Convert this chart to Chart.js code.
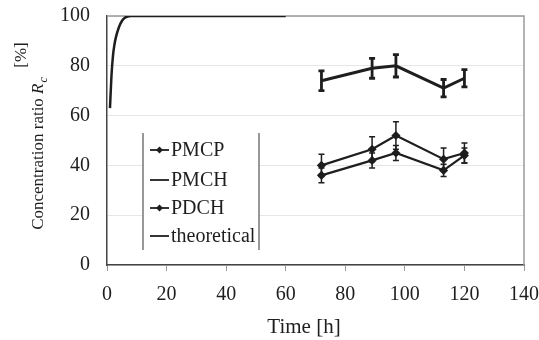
<!DOCTYPE html>
<html>
<head>
<meta charset="utf-8">
<script src="https://cdn.jsdelivr.net/npm/chart.js@4"></script>
<style>
  html, body { margin: 0; padding: 0; background: #fff; }
  #wrap { width: 539px; height: 340px; position: relative; }
</style>
</head>
<body>
<div id="wrap"><canvas id="myChart" width="539" height="340"></canvas></div>
<script>
// ── data ──
const sampleTimes  = [72, 89, 97, 113, 120];

const pmchValues   = [74, 79, 80, 71, 75];
const pmchErrors   = [4, 4, 4.5, 3.5, 3.5];

const pmcpValues   = [40, 46.5, 52, 42.5, 45];
const pmcpErrors   = [4.5, 5, 5.5, 4.5, 4];

const pdchValues   = [36, 42, 45, 38, 44];
const pdchErrors   = [3, 3, 3, 2.5, 3];

const theoryTimes  = [1, 1.5, 2, 2.5, 3, 4, 5, 6, 8, 60];
const theoryValues = [63, 76, 84, 88.5, 91.5, 95.5, 98, 99.3, 100, 100];

const xTicks = [0, 20, 40, 60, 80, 100, 120, 140];
const yTicks = [0, 20, 40, 60, 80, 100];

const SERIF = '"Liberation Serif", "DejaVu Serif", serif';
const INK   = '#1e1e1e';

const toPoints = (xs, ys) => xs.map((x, i) => ({ x, y: ys[i] }));

// ═══════════════════════════════════════
//  ERROR BARS
// ═══════════════════════════════════════
const errorBars = {
  id: 'errorBars',
  afterDatasetsDraw(chart) {
    const { ctx, scales: { x, y } } = chart;
    chart.data.datasets.forEach(ds => {
      if (!ds.errors) return;
      ctx.save();
      ctx.strokeStyle = INK;
      ctx.lineWidth = ds.errWidth || 1.5;
      ds.data.forEach((p, i) => {
        const e  = ds.errors[i];
        const px = x.getPixelForValue(p.x);
        const top = y.getPixelForValue(p.y + e);
        const bot = y.getPixelForValue(p.y - e);
        ctx.beginPath();
        ctx.moveTo(px, top); ctx.lineTo(px, bot);
        ctx.moveTo(px - 3, top); ctx.lineTo(px + 3, top);
        ctx.moveTo(px - 3, bot); ctx.lineTo(px + 3, bot);
        ctx.stroke();
      });
      ctx.restore();
    });
  }
};

// ═══════════════════════════════════════
//  FRAME, TITLES, LEGEND
// ═══════════════════════════════════════
const decorations = {
  id: 'decorations',
  beforeDatasetsDraw(chart) {
    const { ctx, chartArea: a } = chart;
    ctx.save();
    ctx.strokeStyle = '#9a9a9a';
    ctx.lineWidth = 1.5;
    ctx.beginPath();
    ctx.moveTo(a.left, a.top); ctx.lineTo(a.right, a.top); ctx.lineTo(a.right, a.bottom);
    ctx.stroke();
    ctx.restore();
  },
  afterDraw(chart) {
    const { ctx } = chart;
    ctx.save();
    ctx.fillStyle = INK;

    // x title
    ctx.font = '21px ' + SERIF;
    ctx.textAlign = 'center';
    ctx.textBaseline = 'middle';
    ctx.fillText('Time [h]', 304, 327);

    // y title (rotated), R italic with subscript c
    ctx.save();
    ctx.translate(39, 154);
    ctx.rotate(-Math.PI / 2);
    ctx.textAlign = 'left';
    const main = 'Concentration ratio ';
    ctx.font = '17px ' + SERIF;
    const w1 = ctx.measureText(main).width;
    ctx.font = 'italic 17px ' + SERIF;
    const w2 = ctx.measureText('R').width;
    ctx.font = 'italic 12px ' + SERIF;
    const w3 = ctx.measureText('c').width;
    let sx = -(w1 + w2 + w3) / 2;
    ctx.font = '17px ' + SERIF;
    ctx.fillText(main, sx, 0);
    ctx.font = 'italic 17px ' + SERIF;
    ctx.fillText('R', sx + w1, 0);
    ctx.font = 'italic 12px ' + SERIF;
    ctx.fillText('c', sx + w1 + w2 + 1, 5);
    ctx.restore();

    ctx.save();
    ctx.translate(22, 55);
    ctx.rotate(-Math.PI / 2);
    ctx.font = '17px ' + SERIF;
    ctx.textAlign = 'center';
    ctx.fillText('[%]', 0, 0);
    ctx.restore();

    // legend box
    const L = 143, R = 259, T = 133, B = 250;
    ctx.fillStyle = '#fff';
    ctx.fillRect(L, T, R - L, B - T);
    ctx.strokeStyle = '#777';
    ctx.lineWidth = 1.5;
    ctx.beginPath();
    ctx.moveTo(L, T); ctx.lineTo(L, B);
    ctx.moveTo(R, T); ctx.lineTo(R, B);
    ctx.stroke();

    const rows = [150, 180, 208, 236];
    const order = ['PMCP', 'PMCH', 'PDCH', 'theoretical'];
    order.forEach((lab, i) => {
      const ds = chart.data.datasets.find(d => d.label === lab);
      const ry = rows[i];
      ctx.strokeStyle = INK;
      ctx.lineWidth = 1.8;
      ctx.beginPath();
      ctx.moveTo(150, ry); ctx.lineTo(169, ry);
      ctx.stroke();
      if (ds.pointRadius > 0) {
        ctx.fillStyle = INK;
        ctx.beginPath();
        ctx.moveTo(159.5, ry - 3.5); ctx.lineTo(163, ry);
        ctx.lineTo(159.5, ry + 3.5); ctx.lineTo(156, ry);
        ctx.closePath(); ctx.fill();
      }
      ctx.fillStyle = INK;
      ctx.font = '20px ' + SERIF;
      ctx.textAlign = 'left';
      ctx.textBaseline = 'middle';
      ctx.fillText(lab, 171, ry + 1);
    });
    ctx.restore();
  }
};

// ═══════════════════════════════════════
//  CHART
// ═══════════════════════════════════════
const ctx = document.getElementById('myChart').getContext('2d');

new Chart(ctx, {
  type: 'scatter',
  data: {
    datasets: [
      {
        label: 'theoretical',
        data: toPoints(theoryTimes, theoryValues),
        showLine: true,
        borderColor: INK,
        borderWidth: 2.5,
        pointRadius: 0,
        cubicInterpolationMode: 'monotone'
      },
      {
        label: 'PMCH',
        data: toPoints(sampleTimes, pmchValues),
        errors: pmchErrors,
        errWidth: 2.8,
        showLine: true,
        borderColor: INK,
        backgroundColor: INK,
        borderWidth: 3,
        pointRadius: 0
      },
      {
        label: 'PMCP',
        data: toPoints(sampleTimes, pmcpValues),
        errors: pmcpErrors,
        showLine: true,
        borderColor: INK,
        backgroundColor: INK,
        borderWidth: 2.2,
        pointStyle: 'rectRot',
        pointRadius: 3
      },
      {
        label: 'PDCH',
        data: toPoints(sampleTimes, pdchValues),
        errors: pdchErrors,
        showLine: true,
        borderColor: INK,
        backgroundColor: INK,
        borderWidth: 2.2,
        pointStyle: 'rectRot',
        pointRadius: 3
      }
    ]
  },
  options: {
    responsive: false,
    animation: false,
    layout: { padding: { left: 0, right: 15, top: 16, bottom: 0 } },
    plugins: {
      legend: { display: false },
      tooltip: { enabled: false }
    },
    scales: {
      x: {
        type: 'linear',
        min: 0, max: 140,
        afterBuildTicks: s => { s.ticks = xTicks.map(v => ({ value: v })); },
        afterFit: s => { s.height = 75; s.paddingLeft = 0; s.paddingRight = 0; },
        ticks: { color: INK, font: { family: SERIF, size: 20 }, padding: 12, maxRotation: 0 },
        grid: { drawOnChartArea: false, drawTicks: true, tickLength: 6, color: '#999' },
        border: { color: '#444', width: 1.5 }
      },
      y: {
        min: 0, max: 100,
        afterBuildTicks: s => { s.ticks = yTicks.map(v => ({ value: v })); },
        afterFit: s => { s.width = 107; s.paddingTop = 0; s.paddingBottom = 0; },
        ticks: { color: INK, font: { family: SERIF, size: 20 }, padding: 17 },
        grid: { drawTicks: false, color: '#e6e6e6', lineWidth: 1 },
        border: { color: '#444', width: 1.5 }
      }
    }
  },
  plugins: [errorBars, decorations]
});
</script>
</body>
</html>
